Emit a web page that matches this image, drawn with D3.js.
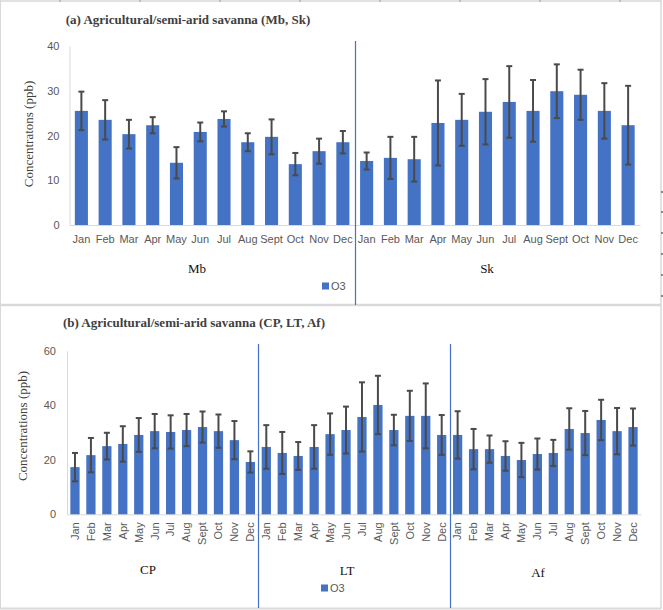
<!DOCTYPE html>
<html>
<head>
<meta charset="utf-8">
<script src="https://cdn.jsdelivr.net/npm/d3@7"></script>
<style>
  body { margin: 0; background: #ffffff; }
  svg { display: block; }
</style>
</head>
<body>
<div id="chart"></div>
<script>
// data
const months = ["Jan", "Feb", "Mar", "Apr", "May", "Jun", "Jul", "Aug", "Sept", "Oct", "Nov", "Dec"];

const topSites = ["Mb", "Sk"];
const mbO3 = [25.5, 23.5, 20.3, 22.3, 13.9, 20.8, 23.7, 18.5, 19.7, 13.6, 16.5, 18.5];
const mbSd = [4.3, 4.4, 3.2, 1.8, 3.5, 2.1, 1.7, 2.0, 3.9, 2.5, 2.8, 2.5];
const skO3 = [14.3, 15.0, 14.7, 22.8, 23.5, 25.3, 27.5, 25.5, 29.9, 29.1, 25.5, 22.3];
const skSd = [1.9, 4.7, 5.0, 9.5, 5.8, 7.3, 8.0, 6.9, 6.0, 5.6, 6.2, 8.8];

const bottomSites = ["CP", "LT", "Af"];
const cpO3 = [17.3, 21.7, 25.0, 25.8, 29.1, 30.5, 30.2, 30.9, 32.0, 30.5, 27.2, 19.2];
const cpSd = [5.2, 6.3, 4.9, 6.5, 6.2, 6.3, 6.1, 5.9, 5.7, 6.1, 7.0, 3.9];
const ltO3 = [24.7, 22.5, 21.4, 24.7, 29.4, 30.9, 35.7, 40.1, 30.9, 36.1, 36.1, 29.1];
const ltSd = [8.0, 7.7, 5.1, 8.0, 7.6, 8.6, 12.7, 10.7, 5.6, 9.2, 11.9, 7.3];
const afO3 = [29.1, 23.9, 23.9, 21.4, 19.9, 22.1, 22.5, 31.3, 29.8, 34.6, 30.5, 32.0];
const afSd = [8.7, 7.4, 5.0, 5.4, 6.3, 5.7, 4.8, 7.6, 8.1, 7.4, 8.5, 6.8];

const topTicks = [0, 10, 20, 30, 40];
const bottomTicks = [0, 20, 40, 60];

// styles
const BAR = "#4472C4";
const ERR = "#4a4a4a";
const GRID = "#d9d9d9";
const LABEL = "#595959";
const SANS = "'Liberation Sans', Arial, sans-serif";
const SERIF = "'Liberation Serif', 'Times New Roman', serif";

const width = 663, height = 610;
const svg = d3.select("#chart").append("svg")
    .attr("width", width)
    .attr("height", height);

// frame (looks like the sheet cell borders around the two charts)
const frame = svg.append("g");
frame.append("line").attr("x1", 0).attr("x2", 661).attr("y1", 1).attr("y2", 1)
    .attr("stroke", GRID).attr("stroke-width", 1.5);
frame.append("line").attr("x1", 0.5).attr("x2", 0.5).attr("y1", 0).attr("y2", 609)
    .attr("stroke", GRID);
frame.append("line").attr("x1", 661).attr("x2", 661).attr("y1", 0).attr("y2", 609)
    .attr("stroke", GRID).attr("stroke-width", 1.5);
frame.append("line").attr("x1", 0).attr("x2", 661).attr("y1", 305).attr("y2", 305)
    .attr("stroke", GRID).attr("stroke-width", 2.5);
frame.append("line").attr("x1", 0).attr("x2", 661).attr("y1", 608.5).attr("y2", 608.5)
    .attr("stroke", GRID).attr("stroke-width", 2);
[60, 140, 220, 300, 380, 460, 540, 620].forEach(function(x) {
    frame.append("line").attr("x1", x).attr("x2", x).attr("y1", 0).attr("y2", 2)
        .attr("stroke", "#9a9a9a");
});
[192, 212, 233, 254, 275, 296].forEach(function(y) {
    frame.append("line").attr("x1", 661).attr("x2", 663).attr("y1", y).attr("y2", y)
        .attr("stroke", "#222");
});

function drawPanel(p) {
    const g = svg.append("g");

    const rows = [];
    p.sites.forEach(function(site, s) {
        months.forEach(function(m, i) {
            rows.push({key: site + "-" + i, month: m, value: p.values[s][i], sd: p.sds[s][i]});
        });
    });

    const x = d3.scaleBand()
        .domain(rows.map(function(d) { return d.key; }))
        .range([p.left, p.right])
        .paddingInner(p.pad)
        .paddingOuter(p.pad / 2);

    const y = d3.scaleLinear()
        .domain([0, p.ticks[p.ticks.length - 1]])
        .range([p.bottom, p.top]);

    // axes
    const yAxis = g.append("g")
        .attr("transform", "translate(" + p.left + ",0)")
        .call(d3.axisLeft(y).tickValues(p.ticks).tickSize(0).tickSizeOuter(0).tickPadding(p.yPad));
    yAxis.select(".domain").attr("stroke", GRID);
    yAxis.selectAll("text")
        .attr("fill", LABEL)
        .style("font-family", SANS)
        .style("font-size", "11px");

    const xAxis = g.append("g")
        .attr("transform", "translate(0," + p.bottom + ")")
        .call(d3.axisBottom(x)
            .tickSize(0).tickSizeOuter(0).tickPadding(p.xPad)
            .tickFormat(function(k) { return months[+k.split("-")[1]]; }));
    xAxis.select(".domain").attr("stroke", GRID);
    const xt = xAxis.selectAll("text")
        .attr("fill", LABEL)
        .style("font-family", SANS)
        .style("font-size", "11px");
    if (p.rotate) {
        xt.attr("transform", "rotate(-90)")
            .attr("text-anchor", "end")
            .attr("x", -p.xPad)
            .attr("y", 0)
            .attr("dy", "0.35em");
    }

    // bars
    g.selectAll(".bar")
        .data(rows)
        .enter().append("rect")
        .attr("class", "bar")
        .attr("x", function(d) { return x(d.key); })
        .attr("y", function(d) { return y(d.value); })
        .attr("width", x.bandwidth())
        .attr("height", function(d) { return p.bottom - y(d.value); })
        .attr("fill", BAR);

    // error bars
    const cap = 3;
    const eb = g.selectAll(".err")
        .data(rows)
        .enter().append("g")
        .attr("class", "err")
        .attr("transform", function(d) { return "translate(" + (x(d.key) + x.bandwidth() / 2) + ",0)"; })
        .attr("stroke", ERR)
        .attr("stroke-width", 2);
    eb.append("line")
        .attr("y1", function(d) { return y(d.value + d.sd); })
        .attr("y2", function(d) { return y(d.value - d.sd); });
    eb.append("line")
        .attr("x1", -cap).attr("x2", cap)
        .attr("y1", function(d) { return y(d.value + d.sd); })
        .attr("y2", function(d) { return y(d.value + d.sd); });
    eb.append("line")
        .attr("x1", -cap).attr("x2", cap)
        .attr("y1", function(d) { return y(d.value - d.sd); })
        .attr("y2", function(d) { return y(d.value - d.sd); });

    // dividers between sites
    const step = x.step();
    for (let s = 1; s < p.sites.length; s++) {
        const dx = Math.round(x(p.sites[s] + "-0") - step * p.pad / 2) + 0.5;
        g.append("line")
            .attr("x1", dx).attr("x2", dx)
            .attr("y1", p.divTop).attr("y2", p.divBottom)
            .attr("stroke", BAR)
            .attr("stroke-width", 1.2);
    }

    // site labels
    p.sites.forEach(function(site, s) {
        g.append("text")
            .attr("x", p.siteX[s])
            .attr("y", p.siteY[s])
            .attr("text-anchor", "middle")
            .attr("fill", "#111")
            .style("font-family", SERIF)
            .style("font-weight", "400")
            .style("font-size", "13px")
            .text(site);
    });

    // title
    g.append("text")
        .attr("x", p.titleX)
        .attr("y", p.titleY)
        .attr("text-anchor", "middle")
        .attr("fill", "#404040")
        .style("font-family", SERIF)
        .style("font-weight", "bold")
        .style("font-size", "13px")
        .text(p.title);

    // y label
    g.append("text")
        .attr("transform", "translate(" + p.yLabelX + "," + p.yLabelY + ") rotate(-90)")
        .attr("text-anchor", "middle")
        .attr("dy", "0.35em")
        .attr("fill", "#404040")
        .style("font-family", SERIF)
        .style("font-size", "13px")
        .text(p.yLabel);

    // legend
    g.append("rect")
        .attr("x", p.legendX).attr("y", p.legendY - 3.5)
        .attr("width", 7).attr("height", 7)
        .attr("fill", BAR);
    g.append("text")
        .attr("x", p.legendX + 9)
        .attr("y", p.legendY)
        .attr("dy", "0.35em")
        .attr("fill", LABEL)
        .style("font-family", SANS)
        .style("font-size", "11px")
        .text("O3");
}

drawPanel({
    sites: topSites,
    values: [mbO3, skO3],
    sds: [mbSd, skSd],
    ticks: topTicks,
    left: 69.5, right: 640, top: 46, bottom: 225,
    pad: 0.45, yPad: 10, xPad: 10, rotate: false,
    divTop: 41, divBottom: 305,
    siteX: [197, 487], siteY: [273, 273],
    title: "(a) Agricultural/semi-arid savanna (Mb, Sk)",
    titleX: 188, titleY: 24,
    yLabel: "Concentratons (ppb)",
    yLabelX: 28, yLabelY: 134,
    legendX: 322, legendY: 286
});

drawPanel({
    sites: bottomSites,
    values: [cpO3, ltO3, afO3],
    sds: [cpSd, ltSd, afSd],
    ticks: bottomTicks,
    left: 67, right: 641, top: 350.7, bottom: 514.3,
    pad: 0.42, yPad: 11, xPad: 8, rotate: true,
    divTop: 344, divBottom: 608,
    siteX: [148, 347, 538], siteY: [574, 575, 577],
    title: "(b) Agricultural/semi-arid savanna (CP, LT, Af)",
    titleX: 194, titleY: 327,
    yLabel: "Concentrations (ppb)",
    yLabelX: 22, yLabelY: 426,
    legendX: 321, legendY: 588
});
</script>
</body>
</html>
